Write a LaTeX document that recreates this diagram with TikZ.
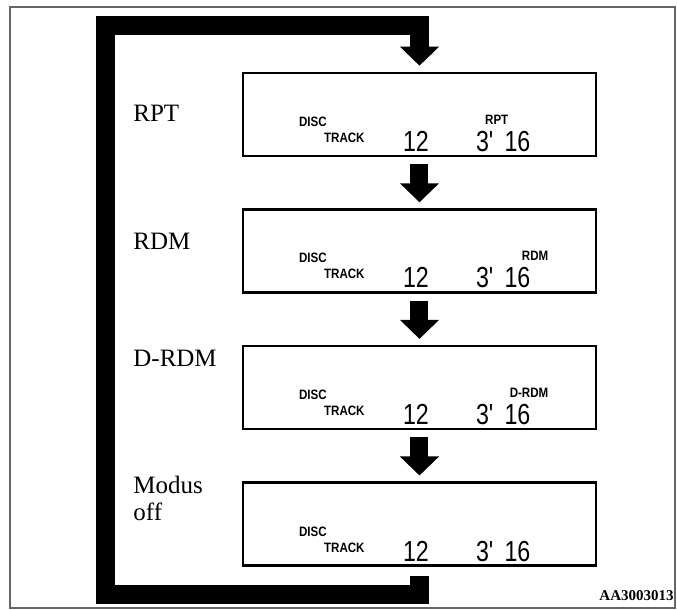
\documentclass[tikz,border=0pt]{standalone}
\usepackage{fontspec}
\setmainfont{Liberation Serif}
\newfontfamily\lcdfont[FakeStretch=0.85]{Liberation Sans}
\newfontfamily\segfont[FakeStretch=0.8]{Liberation Sans}
\usetikzlibrary{arrows.meta,positioning}

\begin{document}
\begin{tikzpicture}[
  x=0.5pt, y=-0.5pt,
  disp/.style={rectangle,draw,line width=1.3pt,minimum width=176.5pt,
               minimum height=41.5pt,inner sep=0pt},
  lbl/.style={font=\fontsize{12.5}{13.5}\selectfont,anchor=west,align=left,
              inner sep=0pt},
  lcdtag/.style={font=\lcdfont\bfseries\fontsize{6.8}{8}\selectfont,inner sep=0pt},
  digits/.style={font=\segfont\fontsize{14.5}{15}\selectfont,inner sep=0pt,
                 anchor=base west},
  flow/.style={line width=9pt,-{Triangle[width=19pt,length=9.5pt]}},
  backloop/.style={line width=9.5pt,line join=miter,
                   -{Triangle[width=19pt,length=9.5pt]}},
  frame/.style={draw=black!60,line width=0.6pt},
  node distance=25.5pt,
]
  \useasboundingbox (0,0) rectangle (677,610);
  \draw[frame] (10,7) rectangle (675,608);

  % Display panels
  \node[disp] (b1) at (419.5,114.5) {};
  \node[disp,below=of b1] (b2) {};
  \node[disp,below=of b2] (b3) {};
  \node[disp,below=of b3] (b4) {};

  % Mode names on the left
  \node[lbl] (l1) at (133,113) {RPT};
  \node[lbl] (l2) at (133,241) {RDM};
  \node[lbl] (l3) at (133,358) {D-RDM};
  \node[lbl] (l4) at (133,498) {Modus\\off};

  % Panel 1
  \node[lcdtag,anchor=base west] (d1) at ([shift={(57,-31)}]b1.south west) {DISC};
  \node[lcdtag,anchor=base west] (t1) at ([shift={(82,-15)}]b1.south west) {TRACK};
  \node[lcdtag,anchor=base east] (m1) at ([shift={(267,-33)}]b1.south west) {RPT};
  \node[digits] (n1) at ([shift={(161,-6)}]b1.south west) {12};
  \node[digits] (s1) at ([shift={(234,-6)}]b1.south west) {3\textquotesingle\hspace{5pt}16};

  % Panel 2
  \node[lcdtag,anchor=base west] (d2) at ([shift={(57,-31)}]b2.south west) {DISC};
  \node[lcdtag,anchor=base west] (t2) at ([shift={(82,-15)}]b2.south west) {TRACK};
  \node[lcdtag,anchor=base east] (m2) at ([shift={(307,-33)}]b2.south west) {RDM};
  \node[digits] (n2) at ([shift={(161,-6)}]b2.south west) {12};
  \node[digits] (s2) at ([shift={(234,-6)}]b2.south west) {3\textquotesingle\hspace{5pt}16};

  % Panel 3
  \node[lcdtag,anchor=base west] (d3) at ([shift={(57,-31)}]b3.south west) {DISC};
  \node[lcdtag,anchor=base west] (t3) at ([shift={(82,-15)}]b3.south west) {TRACK};
  \node[lcdtag,anchor=base east] (m3) at ([shift={(307,-33)}]b3.south west) {D-RDM};
  \node[digits] (n3) at ([shift={(161,-6)}]b3.south west) {12};
  \node[digits] (s3) at ([shift={(234,-6)}]b3.south west) {3\textquotesingle\hspace{5pt}16};

  % Panel 4
  \node[lcdtag,anchor=base west] (d4) at ([shift={(57,-31)}]b4.south west) {DISC};
  \node[lcdtag,anchor=base west] (t4) at ([shift={(82,-15)}]b4.south west) {TRACK};
  \node[digits] (n4) at ([shift={(161,-6)}]b4.south west) {12};
  \node[digits] (s4) at ([shift={(234,-6)}]b4.south west) {3\textquotesingle\hspace{5pt}16};

  % Arrows between panels
  \draw[flow] ([yshift=-3.5pt]b1.south) -- ([yshift=3pt]b2.north);
  \draw[flow] ([yshift=-3.5pt]b2.south) -- ([yshift=3pt]b3.north);
  \draw[flow] ([yshift=-3.5pt]b3.south) -- ([yshift=3pt]b4.north);

  % Return path
  \coordinate (cb) at (106,595);
  \coordinate (ct) at (419.5,26);
  \draw[backloop] ([yshift=-4.5pt]b4.south) |- (cb) |- (ct)
    -- ([yshift=3pt]b1.north);

  \node[font=\bfseries\fontsize{7.5}{8}\selectfont,inner sep=0pt,anchor=base east]
    (code) at (674,601) {AA3003013};
\end{tikzpicture}
\end{document}
